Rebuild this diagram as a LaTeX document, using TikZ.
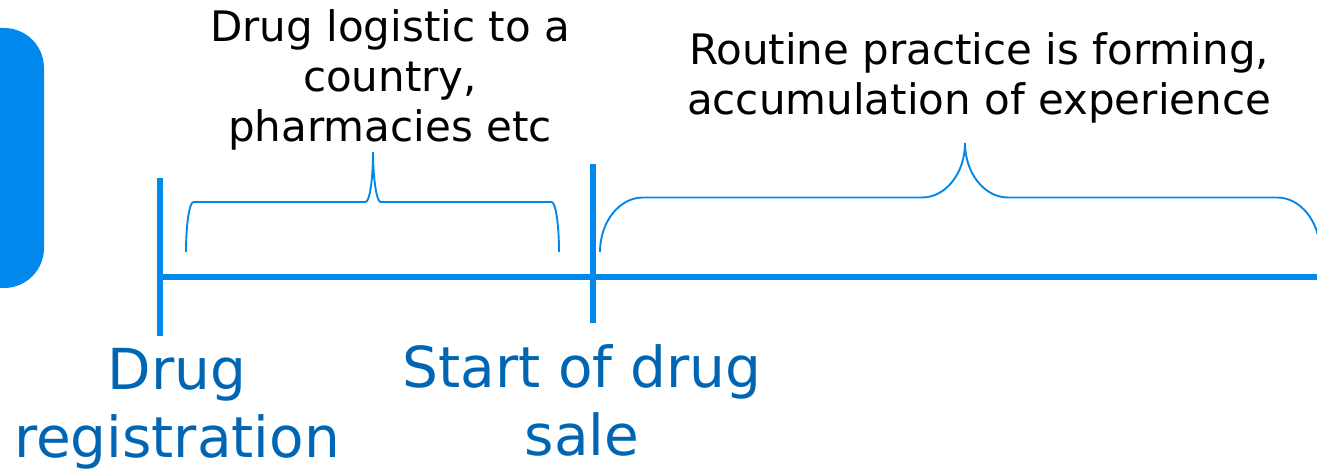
\documentclass[tikz,border=0pt]{standalone}
\usepackage{fontspec}
\setmainfont{DejaVu Sans}
\definecolor{lineblue}{RGB}{0,136,236}
\definecolor{textblue}{RGB}{0,102,179}
\tikzset{
  timeline/.style={draw=lineblue, line width=6bp},
  bracestyle/.style={draw=lineblue, line width=1.9bp},
  blacktext/.style={font=\fontsize{42bp}{50bp}\selectfont, text=black, align=center, inner sep=0pt, anchor=base},
  bluetext/.style={font=\fontsize{56.5bp}{68bp}\selectfont, text=textblue, align=center, inner sep=0pt, anchor=base},
}
\begin{document}
\begin{tikzpicture}[x=1bp, y=-1bp]
\useasboundingbox (0,0) rectangle (1317,469);
% left rounded block
\fill[lineblue, rounded corners=40bp] (-60,28) rectangle (44,288);
% timeline
\coordinate (t0) at (157,277);
\coordinate (tend) at (1330,277);
\draw[timeline] (t0) -- (tend);
\coordinate (r1top) at (160,178);
\coordinate (r1bot) at (160,336);
\draw[timeline] (r1top) -- (r1bot);
\coordinate (s1top) at (593,164);
\coordinate (s1bot) at (593,323);
\draw[timeline] (s1top) -- (s1bot);
% brace 1
\draw[bracestyle] (186,252) .. controls (186,224.4) and (189.36,202) .. (193.5,202)
  -- (365.5,202) .. controls (369.64,202) and (373,179.4) .. (373,152)
  .. controls (373,179.4) and (376.86,202) .. (380.5,202)
  -- (551.5,202) .. controls (555.64,202) and (559,224.4) .. (559,252);
% brace 2
\draw[bracestyle] (600,252) .. controls (600,221.9) and (619.25,197.5) .. (643,197.5)
  -- (922,197.5) .. controls (945.75,197.5) and (965,173.1) .. (965,143)
  .. controls (965,173.1) and (984.25,197.5) .. (1008,197.5)
  -- (1277,197.5) .. controls (1300.75,197.5) and (1320,221.9) .. (1320,252);
% texts (anchor base = baseline of the last line)
\node[blacktext] (logistic) at (390,142) {Drug logistic to a\\country,\\pharmacies etc};
\node[blacktext] (routine) at (979,115) {Routine practice is forming,\\accumulation of experience};
\node[bluetext] (registration) at (177,457) {Drug\\registration};
\node[bluetext] (sale) at (582,455) {Start of drug\\sale};
\end{tikzpicture}
\end{document}
